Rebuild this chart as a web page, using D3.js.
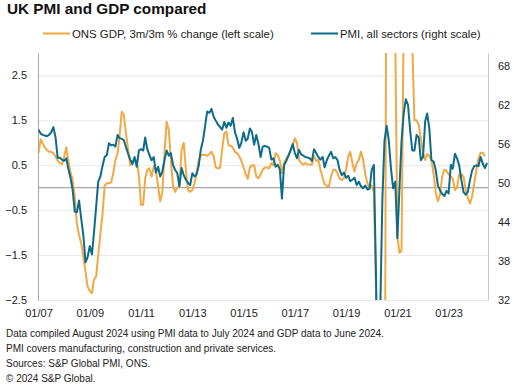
<!DOCTYPE html>
<html>
<head>
<meta charset="utf-8">
<script src="https://cdn.jsdelivr.net/npm/d3@7/dist/d3.min.js"></script>
<style>
  html, body { margin: 0; padding: 0; background: #fff; }
  svg { display: block; font-family: "Liberation Sans", Arial, sans-serif; }
</style>
</head>
<body>
<svg id="chart" width="514" height="389"></svg>
<script>
// ---- Data (monthly, Jan 2007 onwards) ----
const startMonth = new Date(2007, 0, 1);

// PMI, all sectors (right scale), Jan 2007 - Jul 2024
const pmi = [
  58.2, 57.6, 57.4, 57.3, 57.2, 57.4, 57.8, 58.6, 57.0, 53.9, 53.9, 53.6, // 2007
  53.4, 53.8, 52.2, 50.8, 49.0, 45.6, 45.5, 47.3, 44.5, 42.0, 37.8, 38.6, // 2008
  40.3, 39.0, 42.3, 46.3, 50.2, 51.0, 52.6, 54.0, 54.3, 56.1, 55.8, 55.9, // 2009
  55.6, 57.4, 56.9, 56.8, 56.6, 55.5, 54.5, 53.6, 52.9, 54.0, 52.5, 55.0, // 2010
  55.2, 55.0, 57.0, 55.2, 54.3, 53.5, 54.0, 51.6, 52.5, 51.0, 51.8, 53.5, // 2011
  55.0, 54.2, 54.6, 52.8, 52.0, 51.5, 49.5, 52.3, 51.2, 50.5, 50.0, 49.7, // 2012
  51.5, 51.0, 51.3, 52.6, 55.1, 56.5, 58.7, 61.0, 60.8, 61.4, 60.2, 59.6, // 2013
  59.0, 58.6, 58.2, 59.4, 58.5, 59.3, 58.8, 60.0, 57.8, 56.8, 55.4, 56.2, // 2014
  57.8, 56.5, 56.8, 58.4, 57.8, 55.9, 57.4, 56.0, 54.0, 55.6, 55.7, 55.6, // 2015
  55.4, 53.6, 53.8, 52.5, 52.8, 52.1, 47.6, 52.8, 53.4, 54.2, 55.0, 56.0, // 2016
  54.6, 53.8, 55.1, 54.4, 54.2, 54.0, 53.9, 53.8, 53.4, 55.2, 54.6, 54.0, // 2017
  53.6, 54.0, 52.4, 53.5, 54.2, 54.8, 53.8, 54.0, 53.5, 52.0, 51.2, 51.6, // 2018
  50.8, 51.1, 50.3, 50.5, 50.8, 49.7, 50.2, 49.5, 49.2, 49.6, 49.0, 49.1, // 2019
  52.0, 52.8, 36.5, 14.0, 30.0, 47.5, 56.5, 58.8, 56.5, 52.3, 49.2, 50.2, // 2020
  41.5, 49.6, 56.4, 60.7, 62.9, 62.0, 58.2, 55.0, 55.0, 57.4, 57.0, 53.5, // 2021
  54.0, 59.5, 60.7, 58.4, 53.5, 53.3, 52.0, 49.6, 48.9, 48.3, 48.0, 48.8, // 2022
  48.4, 52.8, 52.2, 54.5, 53.8, 52.7, 50.5, 48.6, 48.2, 48.6, 50.4, 51.9, // 2023
  52.6, 52.7, 52.6, 54.0, 53.0, 52.3, 53.1                                // 2024
];

// ONS GDP, 3m/3m % change (left scale), Jan 2007 - Jun 2024
const gdp = [
  0.77, 1.08, 0.99, 0.90, 0.84, 0.80, 0.80, 0.77, 0.70, 0.60, 0.55, 0.52, // 2007
  0.68, 0.90, 0.60, 0.35, 0.17, -0.20, -0.80, -1.05, -1.24, -1.54, -1.87, -2.20, // 2008
  -2.30, -2.35, -2.05, -1.98, -1.50, -1.02, -0.60, 0.05, 0.10, 0.10, 0.12, 0.32, // 2009
  0.62, 0.77, 1.14, 1.69, 1.62, 1.21, 0.85, 0.50, 0.60, 0.62, 0.60, 0.28, // 2010
  -0.38, -0.38, 0.21, 0.40, 0.43, 0.25, 0.47, 0.40, 0.03, -0.30, -0.10, 0.77, // 2011
  1.47, 1.28, 0.62, 0.03, -0.09, 0.00, 0.03, 0.84, 1.00, 0.40, -0.05, -0.09, // 2012
  -0.05, 0.10, 0.30, 0.60, 0.73, 0.73, 0.73, 0.71, 0.75, 0.80, 0.70, 0.45, // 2013
  0.43, 0.45, 0.85, 1.21, 1.25, 0.95, 0.93, 0.90, 0.80, 0.77, 0.70, 0.60, // 2014
  0.45, 0.30, 0.20, 0.45, 0.50, 0.50, 0.25, 0.21, 0.30, 0.40, 0.45, 0.45, // 2015
  0.43, 0.55, 0.50, 0.77, 0.73, 0.60, 0.32, 0.55, 0.66, 0.70, 0.84, 0.95, // 2016
  1.10, 0.99, 0.62, 0.55, 0.51, 0.55, 0.52, 0.51, 0.51, 0.70, 0.60, 0.62, // 2017
  0.40, 0.22, 0.08, 0.04, 0.03, 0.25, 0.40, 0.40, 0.32, 0.20, 0.17, 0.22, // 2018
  0.40, 0.70, 0.80, 0.55, 0.36, 0.55, 0.62, 0.80, 0.62, 0.30, 0.10, 0.00, // 2019
  0.05, -0.10, -2.20, -10.4, -19.1, -19.8, -8.4, 8.0, 15.5, 10.5, 6.0, 3.5, // 2020
  -1.10, -1.45, -1.40, 3.8, 4.8, 4.8, 3.6, 3.2, 1.50, 1.50, 1.40, 1.10, // 2021
  0.78, 0.62, 0.75, 0.70, 0.62, 0.30, -0.10, -0.30, -0.15, 0.25, 0.40, 0.38, // 2022
  0.30, 0.25, 0.20, -0.05, 0.00, 0.30, 0.30, 0.25, -0.05, -0.22, -0.35, -0.20, // 2023
  0.10, 0.40, 0.65, 0.78, 0.78, 0.70                                       // 2024
];

const leftTicks = [-2.5, -1.5, -0.5, 0.5, 1.5, 2.5];
const rightTicks = [32, 38, 44, 50, 56, 62, 68];
const xTickYears = [2007, 2009, 2011, 2013, 2015, 2017, 2019, 2021, 2023];

const titleText = "UK PMI and GDP compared";
const seriesNames = ["ONS GDP, 3m/3m % change (left scale)", "PMI, all sectors (right scale)"];
const footnotes = [
  "Data compiled August 2024 using PMI data to July 2024 and GDP data to June 2024.",
  "PMI covers manufacturing, construction and private services.",
  "Sources: S&P Global PMI, ONS.",
  "\u00A9 2024 S&P Global."
];

const colors = { gdp: "#F3A843", pmi: "#0C6C8A" };

// ---- Layout ----
const svg = d3.select("#chart");
const L = 38, R = 488, T = 53, B = 300;

const dateOf = i => d3.timeMonth.offset(startMonth, i);

const x = d3.scaleTime()
  .domain([new Date(2006, 11, 25), new Date(2024, 6, 15)])
  .range([L, R]);
const yL = d3.scaleLinear().domain([-2.5, 3.0]).range([B, T]);
const yR = d3.scaleLinear().domain([32, 70]).range([B, T]);

// Title
svg.append("text")
  .attr("x", 7).attr("y", 14)
  .attr("font-size", 15.3).attr("font-weight", "bold").attr("fill", "#111")
  .text(titleText);

// Legend
const legend = [
  { name: seriesNames[0], color: colors.gdp, x1: 43, x2: 70 },
  { name: seriesNames[1], color: colors.pmi, x1: 311, x2: 338 }
];
legend.forEach(d => {
  svg.append("line")
    .attr("x1", d.x1).attr("x2", d.x2).attr("y1", 33.5).attr("y2", 33.5)
    .attr("stroke", d.color).attr("stroke-width", 2);
  svg.append("text")
    .attr("x", d.x2 + 2).attr("y", 37.5)
    .attr("font-size", 11.4).attr("fill", "#222")
    .text(d.name);
});

// Gridlines
svg.append("g")
  .attr("transform", `translate(${L},0)`)
  .call(d3.axisLeft(yL).tickValues(leftTicks).tickSize(-(R - L)).tickFormat(""))
  .call(g => g.select(".domain").remove())
  .call(g => g.selectAll(".tick line").attr("stroke", "#e8e8e8").attr("stroke-width", 1));

// Left axis
svg.append("g")
  .attr("transform", `translate(${L},0)`)
  .call(d3.axisLeft(yL).tickValues(leftTicks).tickSize(0).tickSizeOuter(0).tickPadding(11)
        .tickFormat(d3.format(".1f")))
  .call(g => g.select(".domain").attr("stroke", "#a6a6a6"))
  .call(g => g.selectAll(".tick text").attr("font-size", 11).attr("fill", "#222")
        .attr("font-family", "Liberation Sans, Arial, sans-serif"));

// Right axis
svg.append("g")
  .attr("transform", `translate(${R},0)`)
  .call(d3.axisRight(yR).tickValues(rightTicks).tickSize(0).tickSizeOuter(0).tickPadding(10))
  .call(g => g.select(".domain").attr("stroke", "#c8c8c8"))
  .call(g => g.selectAll(".tick text").attr("font-size", 11).attr("fill", "#222")
        .attr("font-family", "Liberation Sans, Arial, sans-serif"));

// X axis
svg.append("g")
  .attr("transform", `translate(0,${B})`)
  .call(d3.axisBottom(x).tickValues(xTickYears.map(yv => new Date(yv, 0, 1)))
        .tickSize(0).tickPadding(9).tickFormat(d3.timeFormat("%m/%y")))
  .call(g => g.select(".domain").remove())
  .call(g => g.selectAll(".tick text").attr("font-size", 11).attr("fill", "#222")
        .attr("font-family", "Liberation Sans, Arial, sans-serif"));

// Clip
svg.append("clipPath").attr("id", "plotclip")
  .append("rect").attr("x", L).attr("y", T).attr("width", R - L).attr("height", B - T);

// Zero line
svg.append("line")
  .attr("x1", L).attr("x2", R).attr("y1", yL(0)).attr("y2", yL(0))
  .attr("stroke", "#8f8f8f").attr("stroke-width", 1.2);

const plot = svg.append("g").attr("clip-path", "url(#plotclip)");

const gdpLine = d3.line().x((d, i) => x(dateOf(i))).y(d => yL(d));
const pmiLine = d3.line().x((d, i) => x(dateOf(i))).y(d => yR(d));

plot.append("path").datum(gdp)
  .attr("d", gdpLine).attr("fill", "none")
  .attr("stroke", colors.gdp).attr("stroke-width", 2).attr("stroke-linejoin", "round");
plot.append("path").datum(pmi)
  .attr("d", pmiLine).attr("fill", "none")
  .attr("stroke", colors.pmi).attr("stroke-width", 2).attr("stroke-linejoin", "round");

// Footnotes
footnotes.forEach((t, i) => {
  svg.append("text")
    .attr("x", 6).attr("y", 337 + i * 15)
    .attr("font-size", 10).attr("fill", "#222")
    .text(t);
});
</script>
</body>
</html>
